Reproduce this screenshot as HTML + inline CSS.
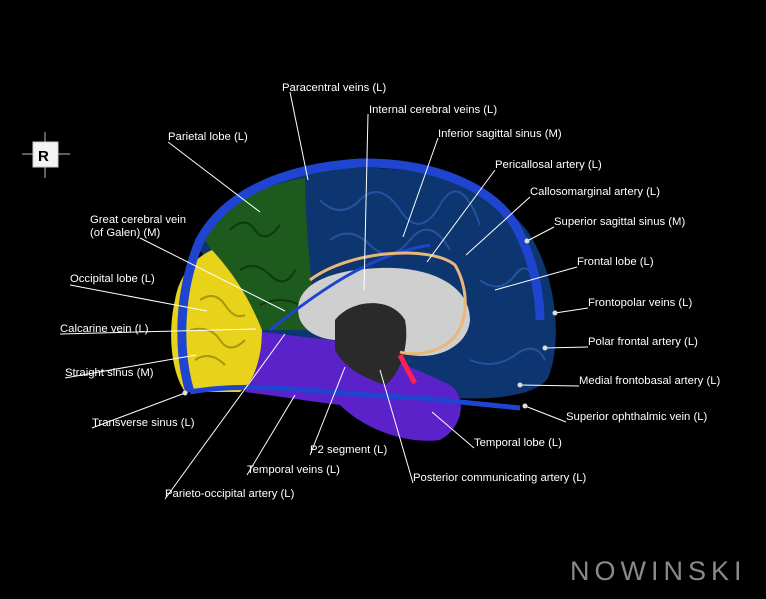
<!DOCTYPE html>
<html><head><meta charset="utf-8"><style>
html,body{margin:0;padding:0;background:#000;}
body{width:766px;height:594px;overflow:hidden;position:relative;font-family:"Liberation Sans",sans-serif;}
svg text{font-family:"Liberation Sans",sans-serif;font-size:11.3px;fill:#fff;}
</style></head><body>
<svg width="766" height="594" viewBox="0 0 766 594" xmlns="http://www.w3.org/2000/svg">
<rect width="766" height="594" fill="#000"/>
<!-- frontal/parietal medial blue -->
<path d="M200,250 C220,200 280,172 350,168 C430,165 500,190 530,235 C558,280 562,345 548,378 C535,398 480,402 430,396 L330,360 L250,330 Z" fill="#0d3670"/>
<g stroke="#2c5aa8" stroke-width="2" fill="none" opacity="0.8">
<path d="M320,200 q20,20 40,0 t40,10 t40,-5 t40,20"/>
<path d="M330,240 q20,-15 40,5 t40,-5 t40,10"/>
<path d="M480,280 q20,15 35,-5 t25,20"/>
<path d="M470,360 q25,10 45,-5 t30,5"/>
</g>
<!-- green parietal -->
<path d="M205,240 C225,205 260,185 305,178 C305,220 310,260 315,330 L255,330 C240,300 225,270 205,240 Z" fill="#1d5a1e"/>
<path d="M230,230 q15,-15 25,0 t25,-5 M240,270 q15,-10 30,5 t25,-5 M260,305 q20,-10 40,0" stroke="#0f3a10" stroke-width="2" fill="none"/>
<!-- yellow occipital -->
<path d="M175,300 C180,270 200,255 212,250 C235,275 250,300 262,330 C262,360 255,380 240,392 L185,392 C170,370 168,330 175,300 Z" fill="#e8d21a"/>
<path d="M200,300 q15,-10 25,5 t20,10 M190,330 q20,-5 30,10 t25,0 M195,360 q15,-10 30,5" stroke="#a89510" stroke-width="2" fill="none"/>
<!-- purple temporal/cerebellum -->
<path d="M262,332 L330,340 C370,350 420,370 450,385 C470,400 460,430 440,440 C400,445 360,425 340,405 C300,400 270,395 245,392 C258,370 262,350 262,332 Z" fill="#5a22c8"/>
<!-- gray corpus callosum -->
<path d="M300,320 C290,290 320,270 380,268 C430,266 470,285 470,320 C468,345 440,360 410,355 C395,345 380,340 360,340 C335,342 310,340 300,320 Z" fill="#cfcfcf"/>
<path d="M335,320 C350,300 390,295 405,320 C410,345 400,375 385,385 C370,380 345,370 335,350 Z" fill="#2a2a2a"/>
<!-- sinus arc -->
<path d="M190,392 C180,360 175,300 200,240 C225,195 280,168 360,163 C430,162 490,185 515,225 C535,260 540,300 540,320" stroke="#1f45d0" stroke-width="9" fill="none"/>
<path d="M190,392 C260,380 330,395 420,398 L520,408" stroke="#1f45d0" stroke-width="5" fill="none"/>
<path d="M270,330 C320,290 370,255 430,245" stroke="#1f45d0" stroke-width="3" fill="none"/>
<!-- pericallosal artery -->
<path d="M310,280 C350,250 430,245 455,265 C470,290 470,330 445,345 C430,355 410,355 400,352" stroke="#e8b878" stroke-width="3" fill="none"/>
<path d="M400,355 q10,20 15,28" stroke="#ff2050" stroke-width="5" fill="none"/>
<!-- R icon -->
<g stroke="#bbb" stroke-width="1"><line x1="22" y1="154" x2="70" y2="154"/><line x1="45" y1="132" x2="45" y2="178"/></g>
<rect x="33" y="142" width="25" height="25" fill="#f4f4f4" stroke="#ccc"/>
<text x="38" y="161" style="font-size:15px;font-weight:bold;fill:#000">R</text>
<!-- leader lines -->
<g stroke="#fff" stroke-width="1" fill="none">
<line x1="290" y1="92" x2="308" y2="180"/>
<line x1="368" y1="114" x2="364" y2="290"/>
<line x1="438" y1="138" x2="403" y2="237"/>
<line x1="168" y1="142" x2="260" y2="212"/>
<line x1="495" y1="170" x2="427" y2="262"/>
<line x1="530" y1="197" x2="466" y2="255"/>
<line x1="554" y1="227" x2="527" y2="241"/>
<line x1="140" y1="238" x2="285" y2="311"/>
<line x1="577" y1="267" x2="495" y2="290"/>
<line x1="70" y1="285" x2="207" y2="311"/>
<line x1="588" y1="308" x2="555" y2="313"/>
<line x1="60" y1="334" x2="256" y2="329"/>
<line x1="588" y1="347" x2="545" y2="348"/>
<line x1="65" y1="378" x2="196" y2="355"/>
<line x1="579" y1="386" x2="520" y2="385"/>
<line x1="566" y1="422" x2="525" y2="406"/>
<line x1="92" y1="428" x2="185" y2="393"/>
<line x1="474" y1="448" x2="432" y2="412"/>
<line x1="310" y1="455" x2="345" y2="367"/>
<line x1="247" y1="475" x2="295" y2="395"/>
<line x1="413" y1="483" x2="380" y2="370"/>
<line x1="165" y1="499" x2="285" y2="334"/>
</g>
<g fill="#ddd">
<circle cx="527" cy="241" r="2.5"/><circle cx="555" cy="313" r="2.5"/><circle cx="545" cy="348" r="2.5"/><circle cx="520" cy="385" r="2.5"/><circle cx="525" cy="406" r="2.5"/><circle cx="185" cy="393" r="2.5"/>
</g>
<text x="282" y="91">Paracentral veins (L)</text>
<text x="369" y="113">Internal cerebral veins (L)</text>
<text x="438" y="137">Inferior sagittal sinus (M)</text>
<text x="168" y="140">Parietal lobe (L)</text>
<text x="495" y="168">Pericallosal artery (L)</text>
<text x="530" y="195">Callosomarginal artery (L)</text>
<text x="554" y="225">Superior sagittal sinus (M)</text>
<text x="90" y="223">Great cerebral vein</text>
<text x="90" y="236">(of Galen) (M)</text>
<text x="577" y="265">Frontal lobe (L)</text>
<text x="70" y="282">Occipital lobe (L)</text>
<text x="588" y="306">Frontopolar veins (L)</text>
<text x="60" y="332">Calcarine vein (L)</text>
<text x="588" y="345">Polar frontal artery (L)</text>
<text x="65" y="376">Straight sinus (M)</text>
<text x="579" y="384">Medial frontobasal artery (L)</text>
<text x="566" y="420">Superior ophthalmic vein (L)</text>
<text x="92" y="426">Transverse sinus (L)</text>
<text x="474" y="446">Temporal lobe (L)</text>
<text x="310" y="453">P2 segment (L)</text>
<text x="247" y="473">Temporal veins (L)</text>
<text x="413" y="481">Posterior communicating artery (L)</text>
<text x="165" y="497">Parieto-occipital artery (L)</text>
<text x="570" y="580" style="font-size:27px;fill:#8a8a8a;letter-spacing:5px">NOWINSKI</text>
</svg>
</body></html>
